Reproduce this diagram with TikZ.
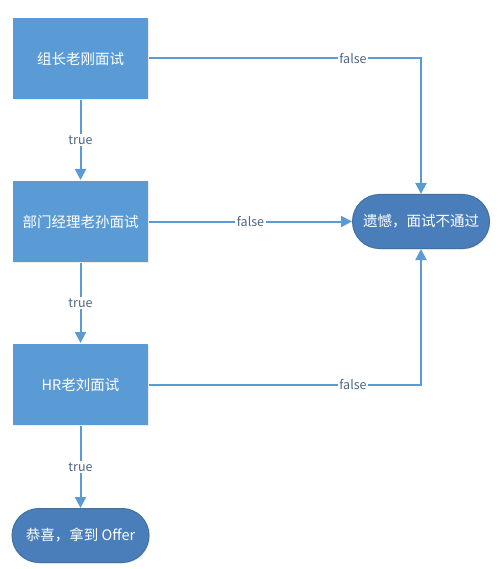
\documentclass[tikz,border=0pt]{standalone}
\usepackage{fontspec}
\setmainfont{Noto Sans CJK SC}
\usetikzlibrary{arrows.meta,positioning,shadows}
\definecolor{boxblue}{HTML}{5B9BD5}
\definecolor{endblue}{HTML}{4A7EBB}
\definecolor{endline}{HTML}{41719C}
\definecolor{lblgray}{HTML}{4E6683}

\begin{document}
\begin{tikzpicture}[x=1pt,y=1pt,>={Triangle[length=11pt,width=11pt]},node distance=80pt,
        line width=2pt,
        step box/.style={rectangle,fill=boxblue,text=white,font=\fontsize{14.5pt}{16pt}\selectfont,
            minimum width=135pt,minimum height=81pt,drop shadow={opacity=0.15,shadow xshift=1pt,shadow yshift=-1pt}},
        end box/.style={rectangle,rounded corners=27pt,fill=endblue,draw=endline,line width=1pt,text=white,
            font=\fontsize{14.5pt}{16pt}\selectfont,minimum width=137pt,minimum height=54pt,
            drop shadow={opacity=0.15,shadow xshift=1pt,shadow yshift=-1pt}},
        flow/.style={draw=boxblue,->},
        lbl/.style={fill=white,text=lblgray,inner sep=1.5pt,font=\fontsize{12.5pt}{14pt}\selectfont}]
        \useasboundingbox (0,0) rectangle (500,-569);
        \node[step box] (leader) at (80.5,-58.5) {组长老刚面试};
        \node[step box] (manager) [below=of leader] {部门经理老孙面试};
        \node[step box] (hr) [below=of manager] {HR老刘面试};
        \node[end box] (pass) [below=82pt of hr] {恭喜，拿到 Offer};
        \node[end box] (fail) [right=203pt of manager] {遗憾，面试不通过};
        % true
        \draw[flow] (leader) -- node[lbl,pos=0.5] {true} (manager);
        \draw[flow] (manager) -- node[lbl,pos=0.5] {true} (hr);
        \draw[flow] (hr) -- node[lbl,pos=0.5] {true} (pass);
        % false
        \draw[flow] (leader.east) -| node[lbl,pos=0.375] {false} (fail.north);
        \draw[flow] (manager) -- node[lbl,pos=0.5] {false} (fail);
        \draw[flow] (hr.east) -| node[lbl,pos=0.375] {false} (fail.south);
\end{tikzpicture}
\end{document}
